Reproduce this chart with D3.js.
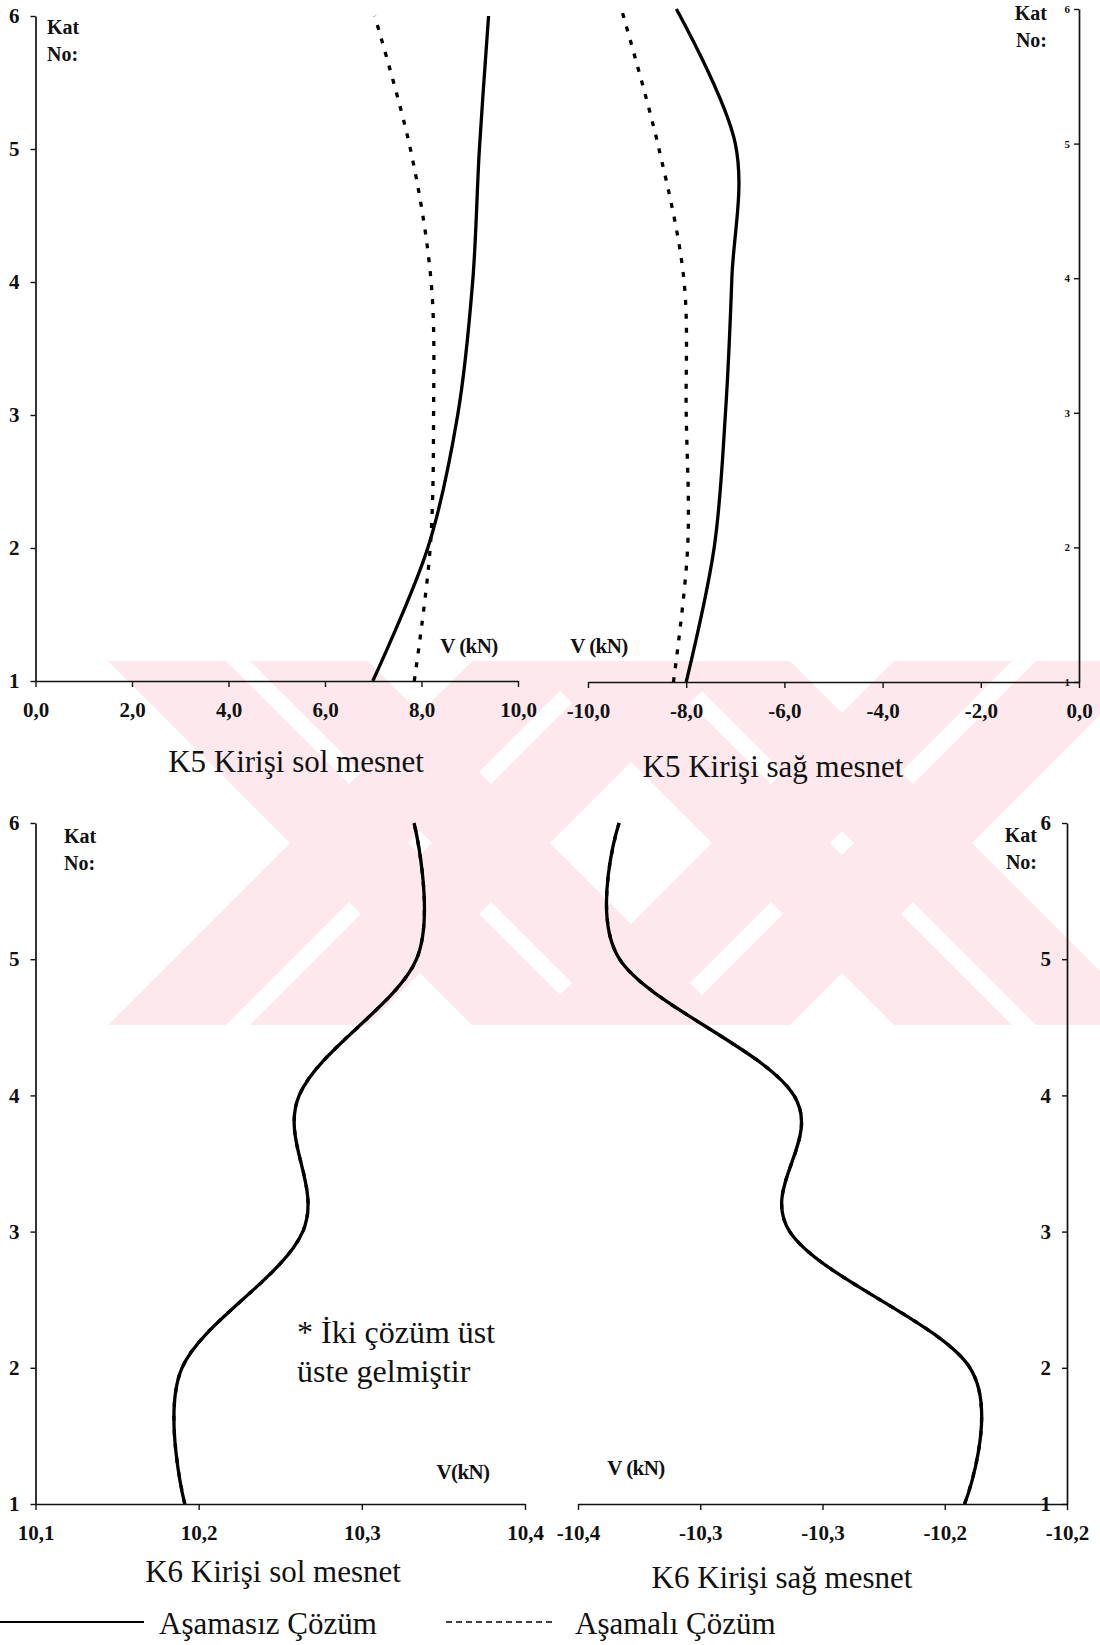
<!DOCTYPE html>
<html>
<head>
<meta charset="utf-8">
<script src="https://cdn.jsdelivr.net/npm/d3@7"></script>
<style>
  body { margin: 0; background: #ffffff; }
  svg { display: block; }
  text { font-family: "Liberation Serif", "Times New Roman", serif; fill: #111; }
</style>
</head>
<body>
<svg id="chart" width="1100" height="1645"></svg>
<script>
// ---- data: shear force V (kN) per storey (Kat No) ----
const floors = [1, 2, 3, 4, 5, 6];

// K5 beam, left support
const k5SolAsamasiz = [6.99, 8.13, 8.75, 9.06, 9.20, 9.39];
const k5SolAsamali  = [7.85, 8.18, 8.25, 8.20, 7.77, 7.03];
// K5 beam, right support
const k5SagAsamasiz = [-8.00, -7.43, -7.20, -7.07, -7.00, -8.20];
const k5SagAsamali  = [-8.26, -7.97, -8.00, -8.05, -8.58, -9.32];
// K6 beam, left support (both solutions coincide)
const k6SolAsamasiz = [10.1915, 10.1898, 10.2638, 10.2616, 10.3335, 10.3320];
const k6SolAsamali  = [10.1915, 10.1898, 10.2638, 10.2616, 10.3335, 10.3320];
// K6 beam, right support (both solutions coincide)
const k6SagAsamasiz = [-10.2419, -10.2397, -10.3134, -10.3117, -10.3830, -10.3832];
const k6SagAsamali  = [-10.2419, -10.2397, -10.3134, -10.3117, -10.3830, -10.3832];

// axis ticks and their printed labels
const floorTicks = [1, 2, 3, 4, 5, 6];
const k5SolTicks = [0, 2, 4, 6, 8, 10];
const k5SolTickLabels = ["0,0", "2,0", "4,0", "6,0", "8,0", "10,0"];
const k5SagTicks = [-10, -8, -6, -4, -2, 0];
const k5SagTickLabels = ["-10,0", "-8,0", "-6,0", "-4,0", "-2,0", "0,0"];
const k6SolTicks = [10.1, 10.2, 10.3, 10.4];
const k6SolTickLabels = ["10,1", "10,2", "10,3", "10,4"];
const k6SagTicks = [-10.4, -10.35, -10.3, -10.25, -10.2];
const k6SagTickLabels = ["-10,4", "-10,3", "-10,3", "-10,2", "-10,2"];

const panelTitles = ["K5 Kirişi sol mesnet", "K5 Kirişi sağ mesnet", "K6 Kirişi sol mesnet", "K6 Kirişi sağ mesnet"];
const seriesNames = ["Aşamasız Çözüm", "Aşamalı Çözüm"];
const note = ["* İki çözüm üst", "üste gelmiştir"];

const svg = d3.select("#chart");

// ---- faint background emblem (pale diagonal bands) ----
const emblem = { clip: [98, 661, 1002, 364], centers: [420, 842], cy: 843,
                 bands: [[-130, -12], [12, 130]] };
svg.append("defs").append("clipPath").attr("id", "emblemClip")
  .append("rect").attr("x", emblem.clip[0]).attr("y", emblem.clip[1])
  .attr("width", emblem.clip[2]).attr("height", emblem.clip[3]);
const eg = svg.append("g").attr("clip-path", "url(#emblemClip)");
const yTop = emblem.clip[1] - 10, yBot = emblem.clip[1] + emblem.clip[3] + 10;
emblem.centers.forEach(cx => {
  emblem.bands.forEach(([a, b]) => {
    [1, -1].forEach(dir => {
      const xAt = (y, u) => cx + dir * (y - emblem.cy) + u;
      const pts = [[xAt(yTop, a), yTop], [xAt(yTop, b), yTop], [xAt(yBot, b), yBot], [xAt(yBot, a), yBot]];
      eg.append("polygon").attr("points", pts.map(p => p.join(",")).join(" "))
        .attr("fill", "#fde9ed");
    });
  });
});

// ---- panels ----
const panels = [
  { xDomain: [0, 10], xRange: [35.5, 518], yRange: [681, 16], ticks: k5SolTicks, labels: k5SolTickLabels,
    yAxisX: 35.5, yLabelSize: 21, yPad: 11, series: [k5SolAsamali, k5SolAsamasiz],
    kat: { x: 47, y: 27, anchor: "start" }, unit: { text: "V (kN)", x: 469, y: 646 },
    title: { x: 296, y: 772 } },
  { xDomain: [-10, 0], xRange: [588, 1079], yRange: [682, 9], ticks: k5SagTicks, labels: k5SagTickLabels,
    yAxisX: 1079, yLabelSize: 11, yPad: 4, series: [k5SagAsamali, k5SagAsamasiz],
    kat: { x: 1047, y: 13, anchor: "end" }, unit: { text: "V (kN)", x: 599, y: 646 },
    title: { x: 773, y: 777 } },
  { xDomain: [10.1, 10.4], xRange: [35.5, 525], yRange: [1504, 823], ticks: k6SolTicks, labels: k6SolTickLabels,
    yAxisX: 35.5, yLabelSize: 21, yPad: 11, series: [k6SolAsamali, k6SolAsamasiz],
    kat: { x: 64, y: 836, anchor: "start" }, unit: { text: "V(kN)", x: 463, y: 1472 },
    title: { x: 273, y: 1582 } },
  { xDomain: [-10.4, -10.2], xRange: [578, 1067], yRange: [1504, 823], ticks: k6SagTicks, labels: k6SagTickLabels,
    yAxisX: 1067, yLabelSize: 21, yPad: 11, series: [k6SagAsamali, k6SagAsamasiz],
    kat: { x: 1037, y: 835, anchor: "end" }, unit: { text: "V (kN)", x: 636, y: 1468 },
    title: { x: 782, y: 1588 } }
];

const lineStyles = [
  { width: 3.3, dash: "5,9" },   // Aşamalı (staged) solution
  { width: 3.3, dash: null }     // Aşamasız (unstaged) solution
];

panels.forEach((p, i) => {
  const x = d3.scaleLinear().domain(p.xDomain).range(p.xRange);
  const y = d3.scaleLinear().domain([1, 6]).range(p.yRange);
  const g = svg.append("g");

  // horizontal axis
  const xa = g.append("g").attr("transform", `translate(0,${p.yRange[0]})`)
    .call(d3.axisBottom(x).tickValues(p.ticks).tickFormat((d, k) => p.labels[k])
      .tickSize(6).tickSizeOuter(0).tickPadding(15));
  xa.selectAll("text").style("font-size", "21px").style("font-weight", "bold")
    .style("font-family", "'Liberation Serif', serif").attr("fill", "#111");

  // vertical (storey) axis
  const ya = g.append("g").attr("transform", `translate(${p.yAxisX},0)`)
    .call(d3.axisLeft(y).tickValues(floorTicks).tickFormat(d3.format("d"))
      .tickSize(5).tickSizeOuter(0).tickPadding(p.yPad));
  ya.selectAll("text").style("font-size", p.yLabelSize + "px").style("font-weight", "bold")
    .style("font-family", "'Liberation Serif', serif").attr("fill", "#111");

  g.selectAll(".domain").attr("stroke", "#111").attr("stroke-width", 1.7);
  g.selectAll(".tick line").attr("stroke", "#111").attr("stroke-width", 1.4);

  // curves
  const line = d3.line()
    .x(d => x(d[1]))
    .y(d => y(d[0]))
    .curve(d3.curveCardinal.tension(0));
  p.series.forEach((vals, s) => {
    const pts = floors.map((f, k) => [f, vals[k]]);
    g.append("path").attr("d", line(pts)).attr("fill", "none")
      .attr("stroke", "#000").attr("stroke-width", lineStyles[s].width)
      .attr("stroke-dasharray", lineStyles[s].dash)
      .attr("stroke-linejoin", "round");
  });

  // "Kat No:" caption
  const kat = g.append("text").attr("x", p.kat.x).attr("y", p.kat.y)
    .attr("text-anchor", p.kat.anchor).style("font-size", "20px").style("font-weight", "bold");
  kat.append("tspan").attr("x", p.kat.x).attr("dy", "0.35em").text("Kat");
  kat.append("tspan").attr("x", p.kat.x).attr("dy", "1.35em").text("No:");

  // unit label
  g.append("text").attr("x", p.unit.x).attr("y", p.unit.y).attr("dy", "0.35em")
    .attr("text-anchor", "middle").style("font-size", "21px").style("font-weight", "bold")
    .style("letter-spacing", "-0.6px").text(p.unit.text);

  // panel title
  g.append("text").attr("x", p.title.x).attr("y", p.title.y).attr("text-anchor", "middle")
    .style("font-size", "31px").text(panelTitles[i]);
});

// note in K6 left panel
svg.append("text").attr("x", 297).attr("y", 1343).style("font-size", "32px").text(note[0]);
svg.append("text").attr("x", 297).attr("y", 1382).style("font-size", "32px").text(note[1]);

// ---- legend ----
const legend = svg.append("g");
legend.append("line").attr("x1", 0).attr("x2", 144).attr("y1", 1622).attr("y2", 1622)
  .attr("stroke", "#000").attr("stroke-width", 2);
legend.append("text").attr("x", 159).attr("y", 1634).style("font-size", "31px").text(seriesNames[0]);
legend.append("line").attr("x1", 446).attr("x2", 556).attr("y1", 1622).attr("y2", 1622)
  .attr("stroke", "#000").attr("stroke-width", 1.5).attr("stroke-dasharray", "6,4");
legend.append("text").attr("x", 575).attr("y", 1634).style("font-size", "31px").text(seriesNames[1]);
</script>
</body>
</html>
